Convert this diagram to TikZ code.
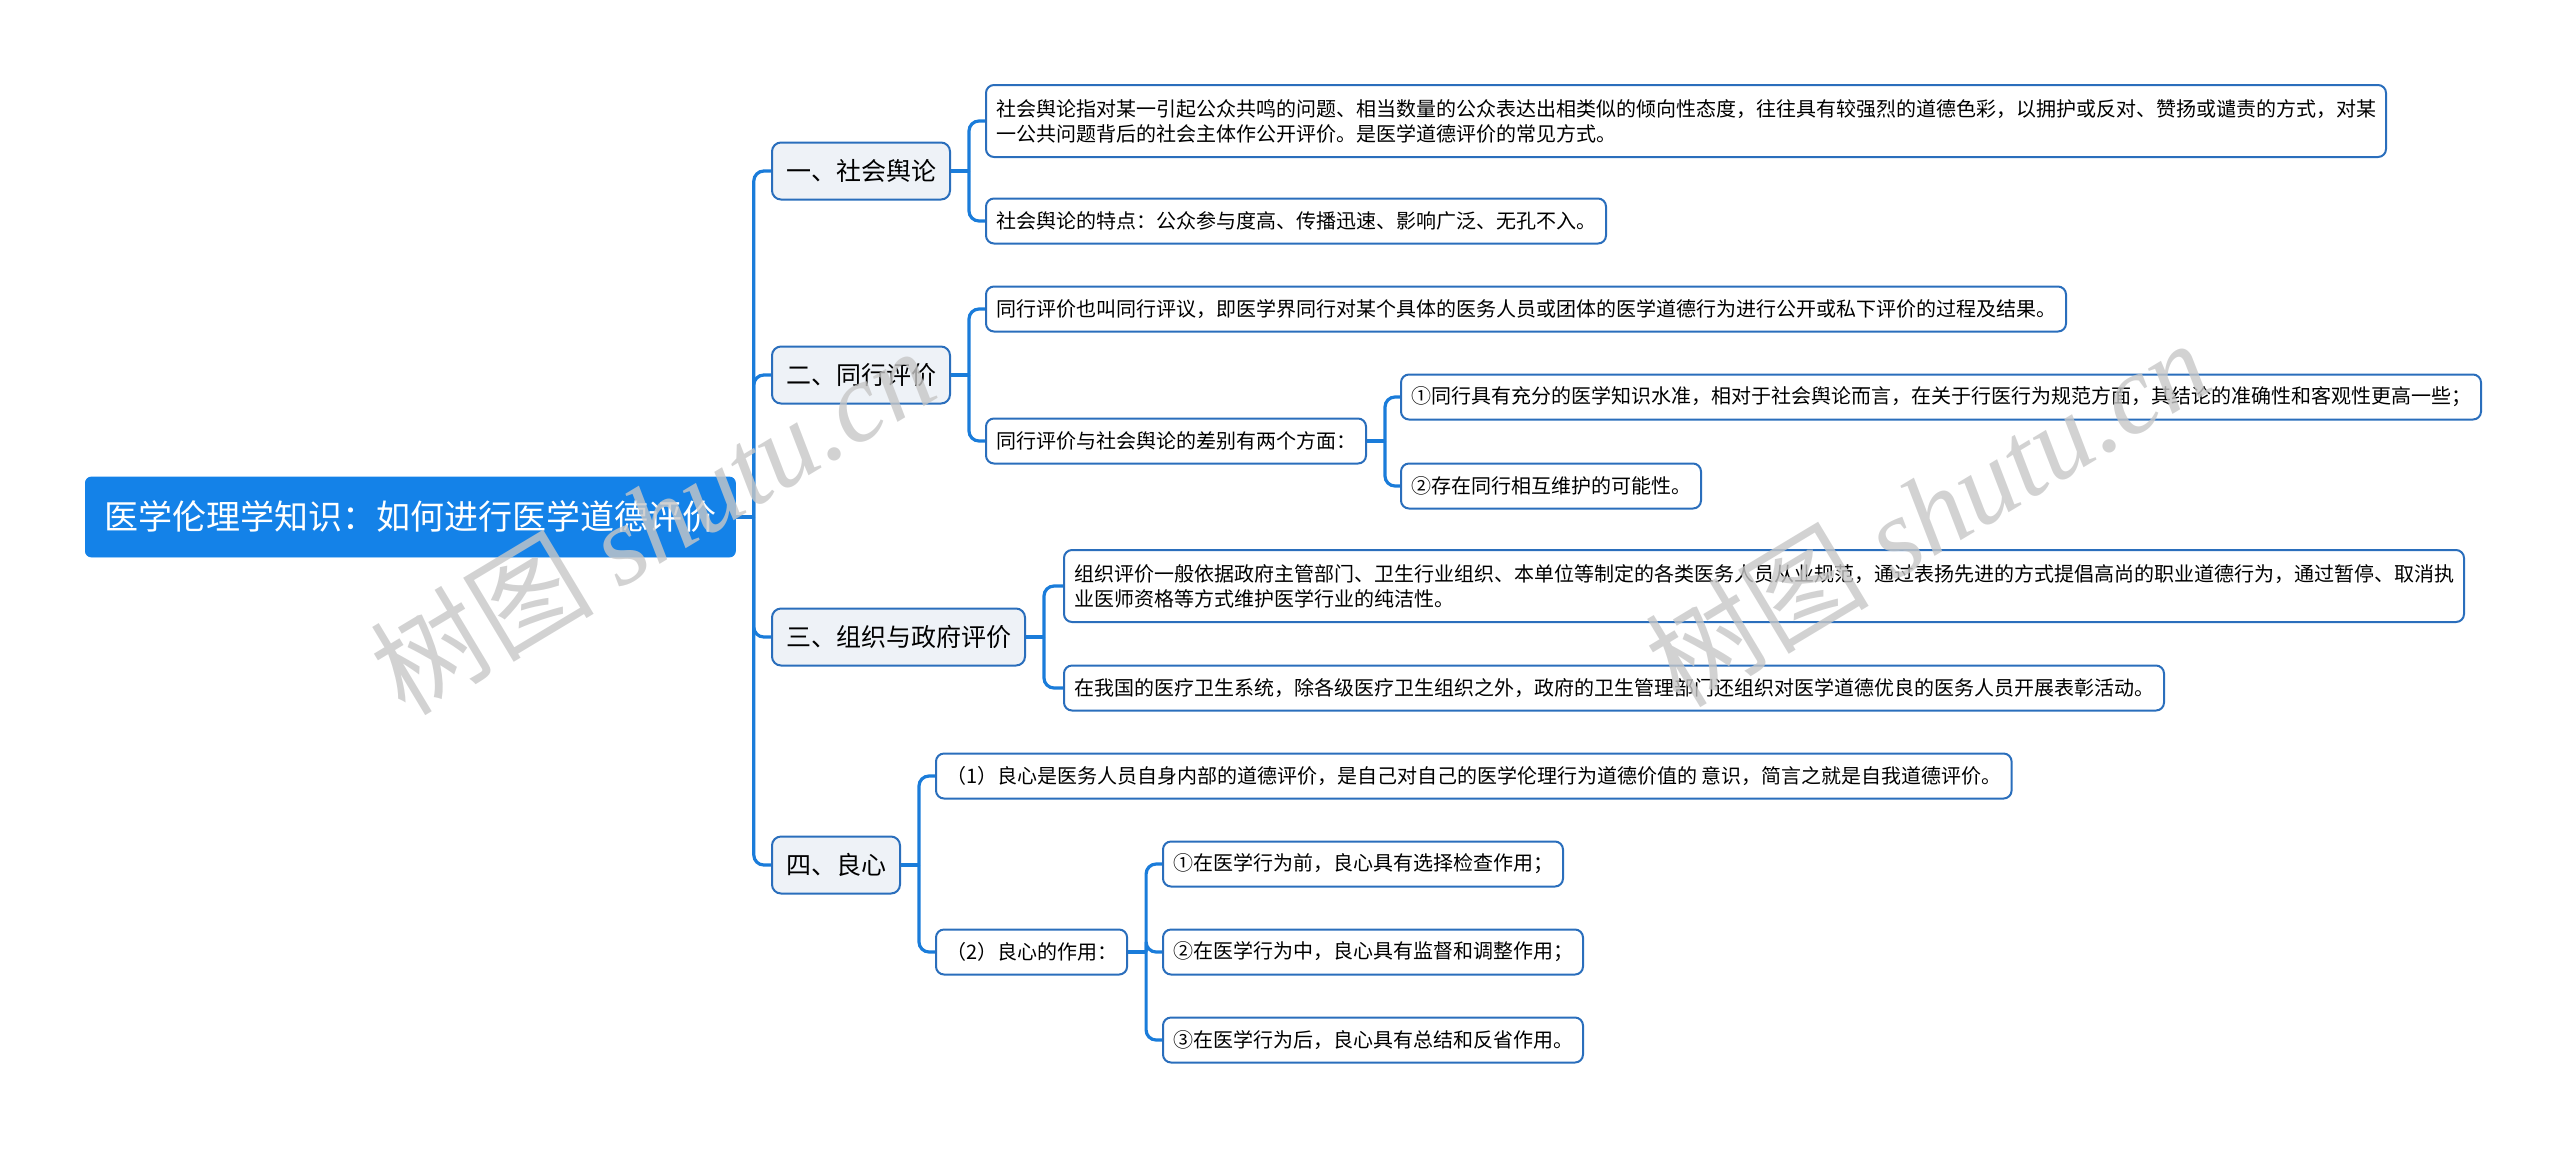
\documentclass[tikz,border=0pt]{standalone}
\usepackage{fontspec}
\setmainfont{Noto Sans CJK SC}
\newfontfamily\wmfont{Liberation Serif}
\definecolor{rootblue}{RGB}{20,130,232}
\definecolor{linkblue}{RGB}{26,124,218}
\definecolor{boxedge}{RGB}{42,110,188}
\definecolor{topicfill}{RGB}{238,242,247}

\begin{document}
\begin{tikzpicture}[x=.5pt,y=-.5pt,
  root/.style={anchor=west,fill=rootblue,draw=rootblue,text=white,rounded corners=3pt,
    font=\fontsize{17}{20}\selectfont,inner xsep=9.5pt,minimum height=40pt},
  topic/.style={anchor=west,fill=topicfill,draw=boxedge,line width=1pt,rounded corners=4.5pt,
    font=\fontsize{12.5}{15}\selectfont,inner xsep=7pt,minimum height=28.5pt},
  leaf/.style={anchor=west,fill=white,draw=boxedge,line width=1pt,rounded corners=4pt,
    font=\fontsize{10}{12.5}\selectfont,inner xsep=5pt,minimum height=22.5pt,align=left},
  link/.style={draw=linkblue,line width=1.6pt,rounded corners=5pt},
  wmark/.style={rotate=31,text=black!22,text opacity=.8,font=\fontsize{56}{64}\selectfont}]
  \useasboundingbox (0,0) rectangle (2560,1148);

  \node[root] (root) at (85,517) {医学伦理学知识：如何进行医学道德评价};

  \node[topic] (s1) at (771,171) {一、社会舆论};
  \node[topic] (s2) at (771,375) {二、同行评价};
  \node[topic] (s3) at (771,637) {三、组织与政府评价};
  \node[topic] (s4) at (771,865) {四、良心};

  \node[leaf,minimum height=36pt] (a1) at (985,121)
    {社会舆论指对某一引起公众共鸣的问题、相当数量的公众表达出相类似的倾向性态度，往往具有较强烈的道德色彩，以拥护或反对、赞扬或谴责的方式，对某\\一公共问题背后的社会主体作公开评价。是医学道德评价的常见方式。};
  \node[leaf] (a2) at (985,221) {社会舆论的特点：公众参与度高、传播迅速、影响广泛、无孔不入。};

  \node[leaf] (b1) at (985,309) {同行评价也叫同行评议，即医学界同行对某个具体的医务人员或团体的医学道德行为进行公开或私下评价的过程及结果。};
  \node[leaf] (b2) at (985,441) {同行评价与社会舆论的差别有两个方面：};
  \node[leaf] (b21) at (1400,397) {①同行具有充分的医学知识水准，相对于社会舆论而言，在关于行医行为规范方面，其结论的准确性和客观性更高一些；};
  \node[leaf] (b22) at (1400,486) {②存在同行相互维护的可能性。};

  \node[leaf,minimum height=36pt] (c1) at (1063,586)
    {组织评价一般依据政府主管部门、卫生行业组织、本单位等制定的各类医务人员从业规范，通过表扬先进的方式提倡高尚的职业道德行为，通过暂停、取消执\\业医师资格等方式维护医学行业的纯洁性。};
  \node[leaf] (c2) at (1063,688) {在我国的医疗卫生系统，除各级医疗卫生组织之外，政府的卫生管理部门还组织对医学道德优良的医务人员开展表彰活动。};

  \node[leaf] (d1) at (935,776) {（1）良心是医务人员自身内部的道德评价，是自己对自己的医学伦理行为道德价值的 意识，简言之就是自我道德评价。};
  \node[leaf] (d2) at (935,952) {（2）良心的作用：};
  \node[leaf] (d21) at (1162,864) {①在医学行为前，良心具有选择检查作用；};
  \node[leaf] (d22) at (1162,952) {②在医学行为中，良心具有监督和调整作用；};
  \node[leaf] (d23) at (1162,1040) {③在医学行为后，良心具有总结和反省作用。};

  % branch points just right of each parent
  \foreach \p in {root,s1,s2,s3,s4,b2,d2}{
    \coordinate (\p-j) at ([xshift=9pt]\p.east);
    \draw[link] (\p.east) -- (\p-j);
  }
  \foreach \p/\c in {root/s1,root/s2,root/s3,root/s4,s1/a1,s1/a2,s2/b1,s2/b2,
      b2/b21,b2/b22,s3/c1,s3/c2,s4/d1,s4/d2,d2/d21,d2/d22,d2/d23}
    \draw[link] (\p-j) |- (\c.west);

  \node[wmark] (wm1) at (652,520) {树图 {\wmfont\itshape shutu.cn}};
  \node[wmark] (wm2) at (1927,512) {树图 {\wmfont\itshape shutu.cn}};
\end{tikzpicture}
\end{document}
